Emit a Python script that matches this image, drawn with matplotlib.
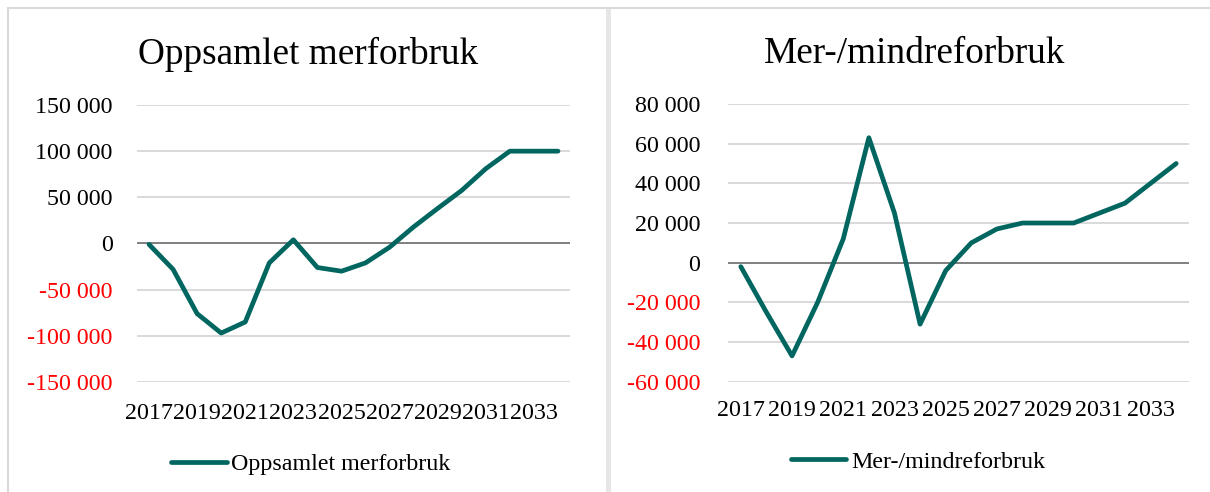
import matplotlib
matplotlib.use("Agg")
import matplotlib.pyplot as plt
from matplotlib.lines import Line2D
from matplotlib.patches import Rectangle
import matplotlib.ticker as mticker

plt.rcParams['font.family'] = ['Liberation Serif', 'DejaVu Serif']

years = list(range(2017, 2035))
tick_years = list(range(2017, 2035, 2))

oppsamlet = [-1000, -28000, -76000, -97000, -85000, -21000, 4000, -26000, -30000,
             -21000, -4000, 18000, 38000, 57500, 81000, 100000, 100000, 100000]
mer_mindre = [-2000, -25000, -47000, -20000, 12000, 63000, 25000, -31000, -4000,
              10000, 17000, 20000, 20000, 20000, 25000, 30000, 40000, 50000]

titles = ["Oppsamlet merforbruk", "Mer-/mindreforbruk"]
left_ticks = [-150000, -100000, -50000, 0, 50000, 100000, 150000]
right_ticks = [-60000, -40000, -20000, 0, 20000, 40000, 60000, 80000]

LINE = '#00665F'
GRID = '#D9D9D9'
ZERO = '#7F7F7F'
W, H = 1210, 492

fig = plt.figure(figsize=(W / 100, H / 100), dpi=100)

# panel borders
fig.add_artist(Line2D([8 / W, 1], [1 - 8 / H, 1 - 8 / H], color=GRID, lw=1.5, transform=fig.transFigure))
fig.add_artist(Line2D([8 / W, 8 / W], [0, 1 - 8 / H], color=GRID, lw=1.5, transform=fig.transFigure))
fig.add_artist(Rectangle((606 / W, 0), 5 / W, 1 - 8 / H, color='#E6E6E6', lw=0, transform=fig.transFigure))


def fmt(v, pos=None):
    s = f"{abs(int(v)):,}".replace(",", " ")
    return ("-" if v < 0 else "") + s


def make(ax_rect, values, ticks, title, title_x, legend_x, legend_y, ypad, xpad):
    ax = fig.add_axes(ax_rect)
    x = list(range(len(years)))
    ax.plot(x, values, color=LINE, lw=3.4, solid_joinstyle='round', solid_capstyle='round',
            label=title, zorder=3)
    ax.set_xlim(-0.5, len(years) - 0.5)
    ax.set_ylim(ticks[0], ticks[-1])
    ax.set_yticks(ticks)
    ax.yaxis.set_major_formatter(mticker.FuncFormatter(fmt))
    for t in ticks:
        if t == 0:
            ax.axhline(0, color=ZERO, lw=1.4, zorder=2)
        else:
            ax.axhline(t, color=GRID, lw=1.4, zorder=1)
    ax.set_xticks([years.index(y) for y in tick_years])
    ax.set_xticklabels([str(y) for y in tick_years])
    ax.tick_params(axis='both', length=0, labelsize=17.3)
    ax.tick_params(axis='y', pad=ypad)
    ax.tick_params(axis='x', pad=xpad)
    for lab, t in zip(ax.get_yticklabels(), ticks):
        lab.set_color('red' if t < 0 else 'black')
    for s in ax.spines.values():
        s.set_visible(False)
    fig.text(title_x, 1 - 54 / H, title, ha='center', va='center', fontsize=26.8)
    fig.legend(handles=[Line2D([0], [0], color=LINE, lw=3.4, solid_capstyle='round')],
               labels=[title], loc='center', bbox_to_anchor=(legend_x, legend_y),
               frameon=False, fontsize=17.3, handlelength=2.3, handletextpad=0.2,
               borderpad=0, borderaxespad=0)
    return ax


make([137 / W, 1 - 382 / H, 433 / W, 277 / H], oppsamlet, left_ticks, titles[0],
     308 / W, 311 / W, 1 - 464 / H, 17.4, 15)
make([728 / W, 1 - 381.7 / H, 461 / W, 277.7 / H], mer_mindre, right_ticks, titles[1],
     915 / W, 918 / W, 1 - 462 / H, 20, 13.5)

fig.savefig("out.png", dpi=100)
